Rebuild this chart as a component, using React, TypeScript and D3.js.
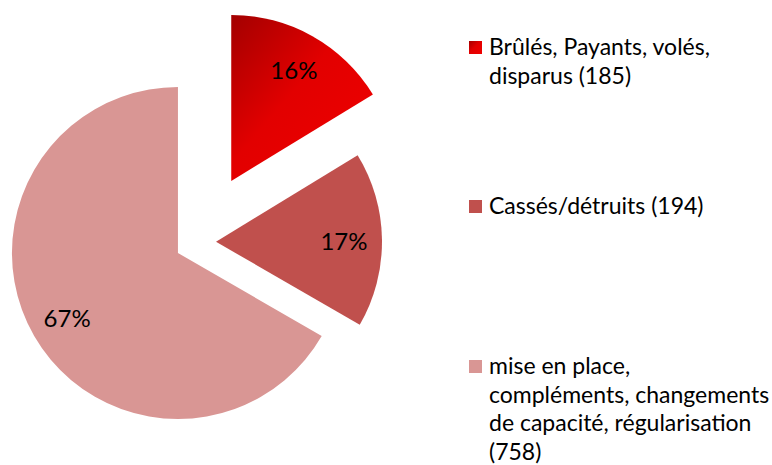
import React from "react";
import * as d3 from "d3";

const categories: string[][] = [
  ["Brûlés, Payants, volés,", "disparus (185)"],
  ["Cassés/détruits (194)"],
  ["mise en place,", "compléments, changements", "de capacité, régularisation", "(758)"],
];
const values: number[] = [185, 194, 758];
const colors: string[] = ["url(#gradRed)", "#C0504D", "#D99694"];
const explode: number[] = [70, 19, 22];

const W = 772;
const H = 465;
const cx = 197;
const cy = 242;
const R = 166;
const labelR = 128;
const FONT = "Lato, 'Open Sans', sans-serif";

const legendX = 469;
const legendTextX = 489;
const legendTops = [41, 200, 360];
const lineH = 28.5;

export default function App() {
  const total = d3.sum(values);
  const pie = d3.pie<number>().sort(null).value((d) => d).startAngle(0).endAngle(2 * Math.PI);
  const arcs = pie(values);
  const arc = d3.arc<d3.PieArcDatum<number>>().innerRadius(0).outerRadius(R);
  const labelArc = d3.arc<d3.PieArcDatum<number>>().innerRadius(labelR).outerRadius(labelR);

  return (
    <svg width={W} height={H} style={{ position: "absolute", left: 0, top: 0 }} fontFamily={FONT}>
      <defs>
        <linearGradient id="gradRed" x1="0" y1="0" x2="1" y2="1">
          <stop offset="0" stopColor="#a30000" />
          <stop offset="0.45" stopColor="#e20000" />
          <stop offset="1" stopColor="#f00000" />
        </linearGradient>
      </defs>
      <rect width={W} height={H} fill="#fff" />
      {arcs.map((a, i) => {
        const mid = (a.startAngle + a.endAngle) / 2;
        const dx = Math.sin(mid) * explode[i];
        const dy = -Math.cos(mid) * explode[i];
        const [lx, ly] = labelArc.centroid(a);
        return (
          <g key={i} transform={`translate(${cx + dx},${cy + dy})`}>
            <path d={arc(a) || ""} fill={colors[i]} />
            <text x={lx} y={ly} textAnchor="middle" dominantBaseline="central" fontSize={24} fill="#000">
              {Math.round((values[i] / total) * 100) + "%"}
            </text>
          </g>
        );
      })}
      {categories.map((lines, i) => (
        <g key={i}>
          <rect x={legendX} y={legendTops[i]} width={13} height={13} fill={colors[i]} />
          {lines.map((ln, j) => (
            <text key={j} x={legendTextX} y={legendTops[i] + 14 + j * lineH} fontSize={23} fill="#000">
              {ln}
            </text>
          ))}
        </g>
      ))}
    </svg>
  );
}
